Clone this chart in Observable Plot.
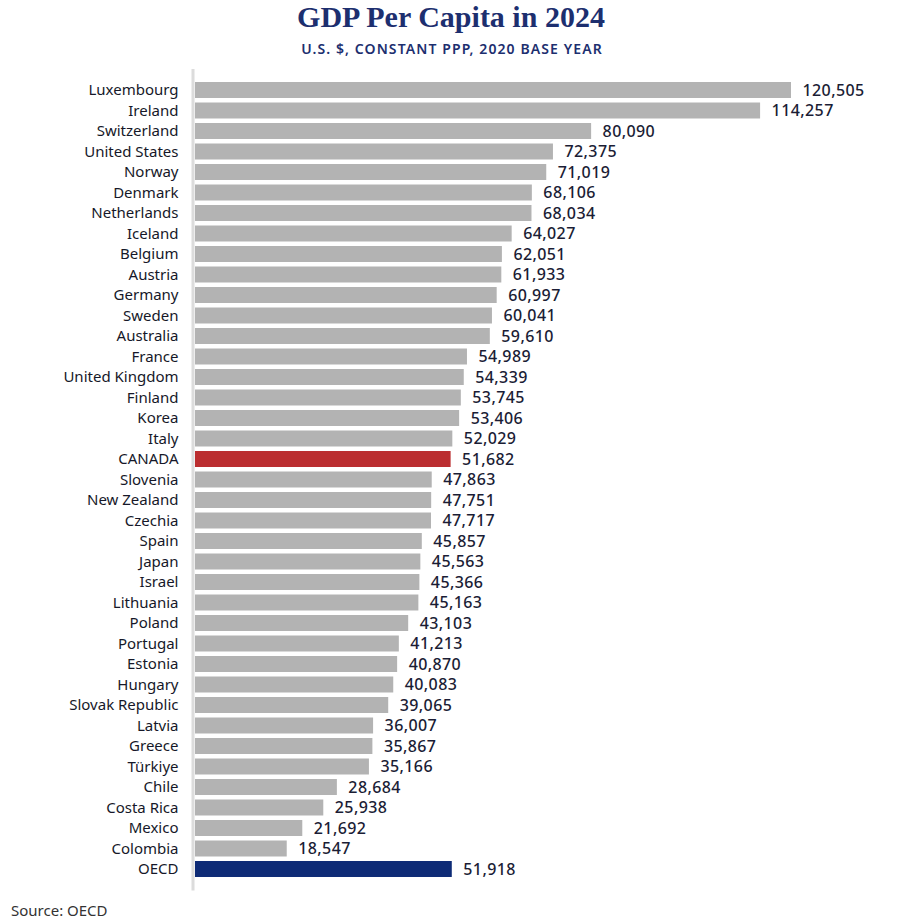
<!DOCTYPE html>
<html><head><meta charset="utf-8">
<script src="https://cdn.jsdelivr.net/npm/d3@7"></script>
<script src="https://cdn.jsdelivr.net/npm/@observablehq/plot@0.6"></script>
<style>
body{margin:0;background:#fff;}
#wrap{position:relative;width:912px;height:921px;overflow:hidden;background:#fff;font-family:"Noto Sans",sans-serif;}
#title{position:absolute;left:-5px;top:1px;width:912px;text-align:center;font-family:"Liberation Serif",serif;font-weight:bold;font-size:30px;line-height:32px;color:#1d2f6f;}
#subtitle{position:absolute;left:-4px;top:39px;width:912px;text-align:center;font-family:"Noto Sans",sans-serif;font-weight:600;font-size:14px;line-height:20px;letter-spacing:1.1px;color:#1d2f6f;}
#chart{position:absolute;left:0;top:60px;}
#source{position:absolute;left:11px;top:900px;font-size:15px;line-height:20px;color:#333;}
#chart svg g[aria-label="text"] text{letter-spacing:0.4px;}
</style></head>
<body>
<div id="wrap">
<div id="title">GDP Per Capita in 2024</div>
<div id="subtitle">U.S. $, CONSTANT PPP, 2020 BASE YEAR</div>
<div id="chart"></div>
<div id="source">Source: OECD</div>
</div>
<script>
const countries = ["Luxembourg","Ireland","Switzerland","United States","Norway","Denmark","Netherlands","Iceland","Belgium","Austria","Germany","Sweden","Australia","France","United Kingdom","Finland","Korea","Italy","CANADA","Slovenia","New Zealand","Czechia","Spain","Japan","Israel","Lithuania","Poland","Portugal","Estonia","Hungary","Slovak Republic","Latvia","Greece","Türkiye","Chile","Costa Rica","Mexico","Colombia","OECD"];
const values = [120505,114257,80090,72375,71019,68106,68034,64027,62051,61933,60997,60041,59610,54989,54339,53745,53406,52029,51682,47863,47751,47717,45857,45563,45366,45163,43103,41213,40870,40083,39065,36007,35867,35166,28684,25938,21692,18547,51918];

const data = countries.map((c, i) => ({country: c, value: values[i]}));
const colorOf = c => c === "CANADA" ? "#bb2e30" : c === "OECD" ? "#0e2b76" : "#b3b3b3";
const fmt = d3.format(",");

const chart = Plot.plot({
  width: 912,
  height: 835,
  marginLeft: 195,
  marginRight: 121,
  marginTop: 17.5,
  marginBottom: 13.5,
  x: {domain: [0, d3.max(values)], axis: null},
  y: {domain: countries, padding: 0.22, round: false, label: null, tickSize: 0, tickPadding: 17},
  color: {type: "identity"},
  style: {fontFamily: "Noto Sans", fontSize: "15px", color: "#161829", background: "#fff"},
  marks: [
    Plot.barX(data, {x: "value", y: "country", fill: d => colorOf(d.country)}),
    Plot.ruleX([0], {stroke: "#dcdcdc", strokeWidth: 3, dx: -2.5, insetTop: -8.5, insetBottom: -9}),
    Plot.text(data, {x: "value", y: "country", text: d => fmt(d.value), textAnchor: "start", dx: 11, fontSize: 16, fontWeight: 500, fill: "#1b1d35"})
  ]
});
document.getElementById("chart").appendChild(chart);
</script>
</body></html>
